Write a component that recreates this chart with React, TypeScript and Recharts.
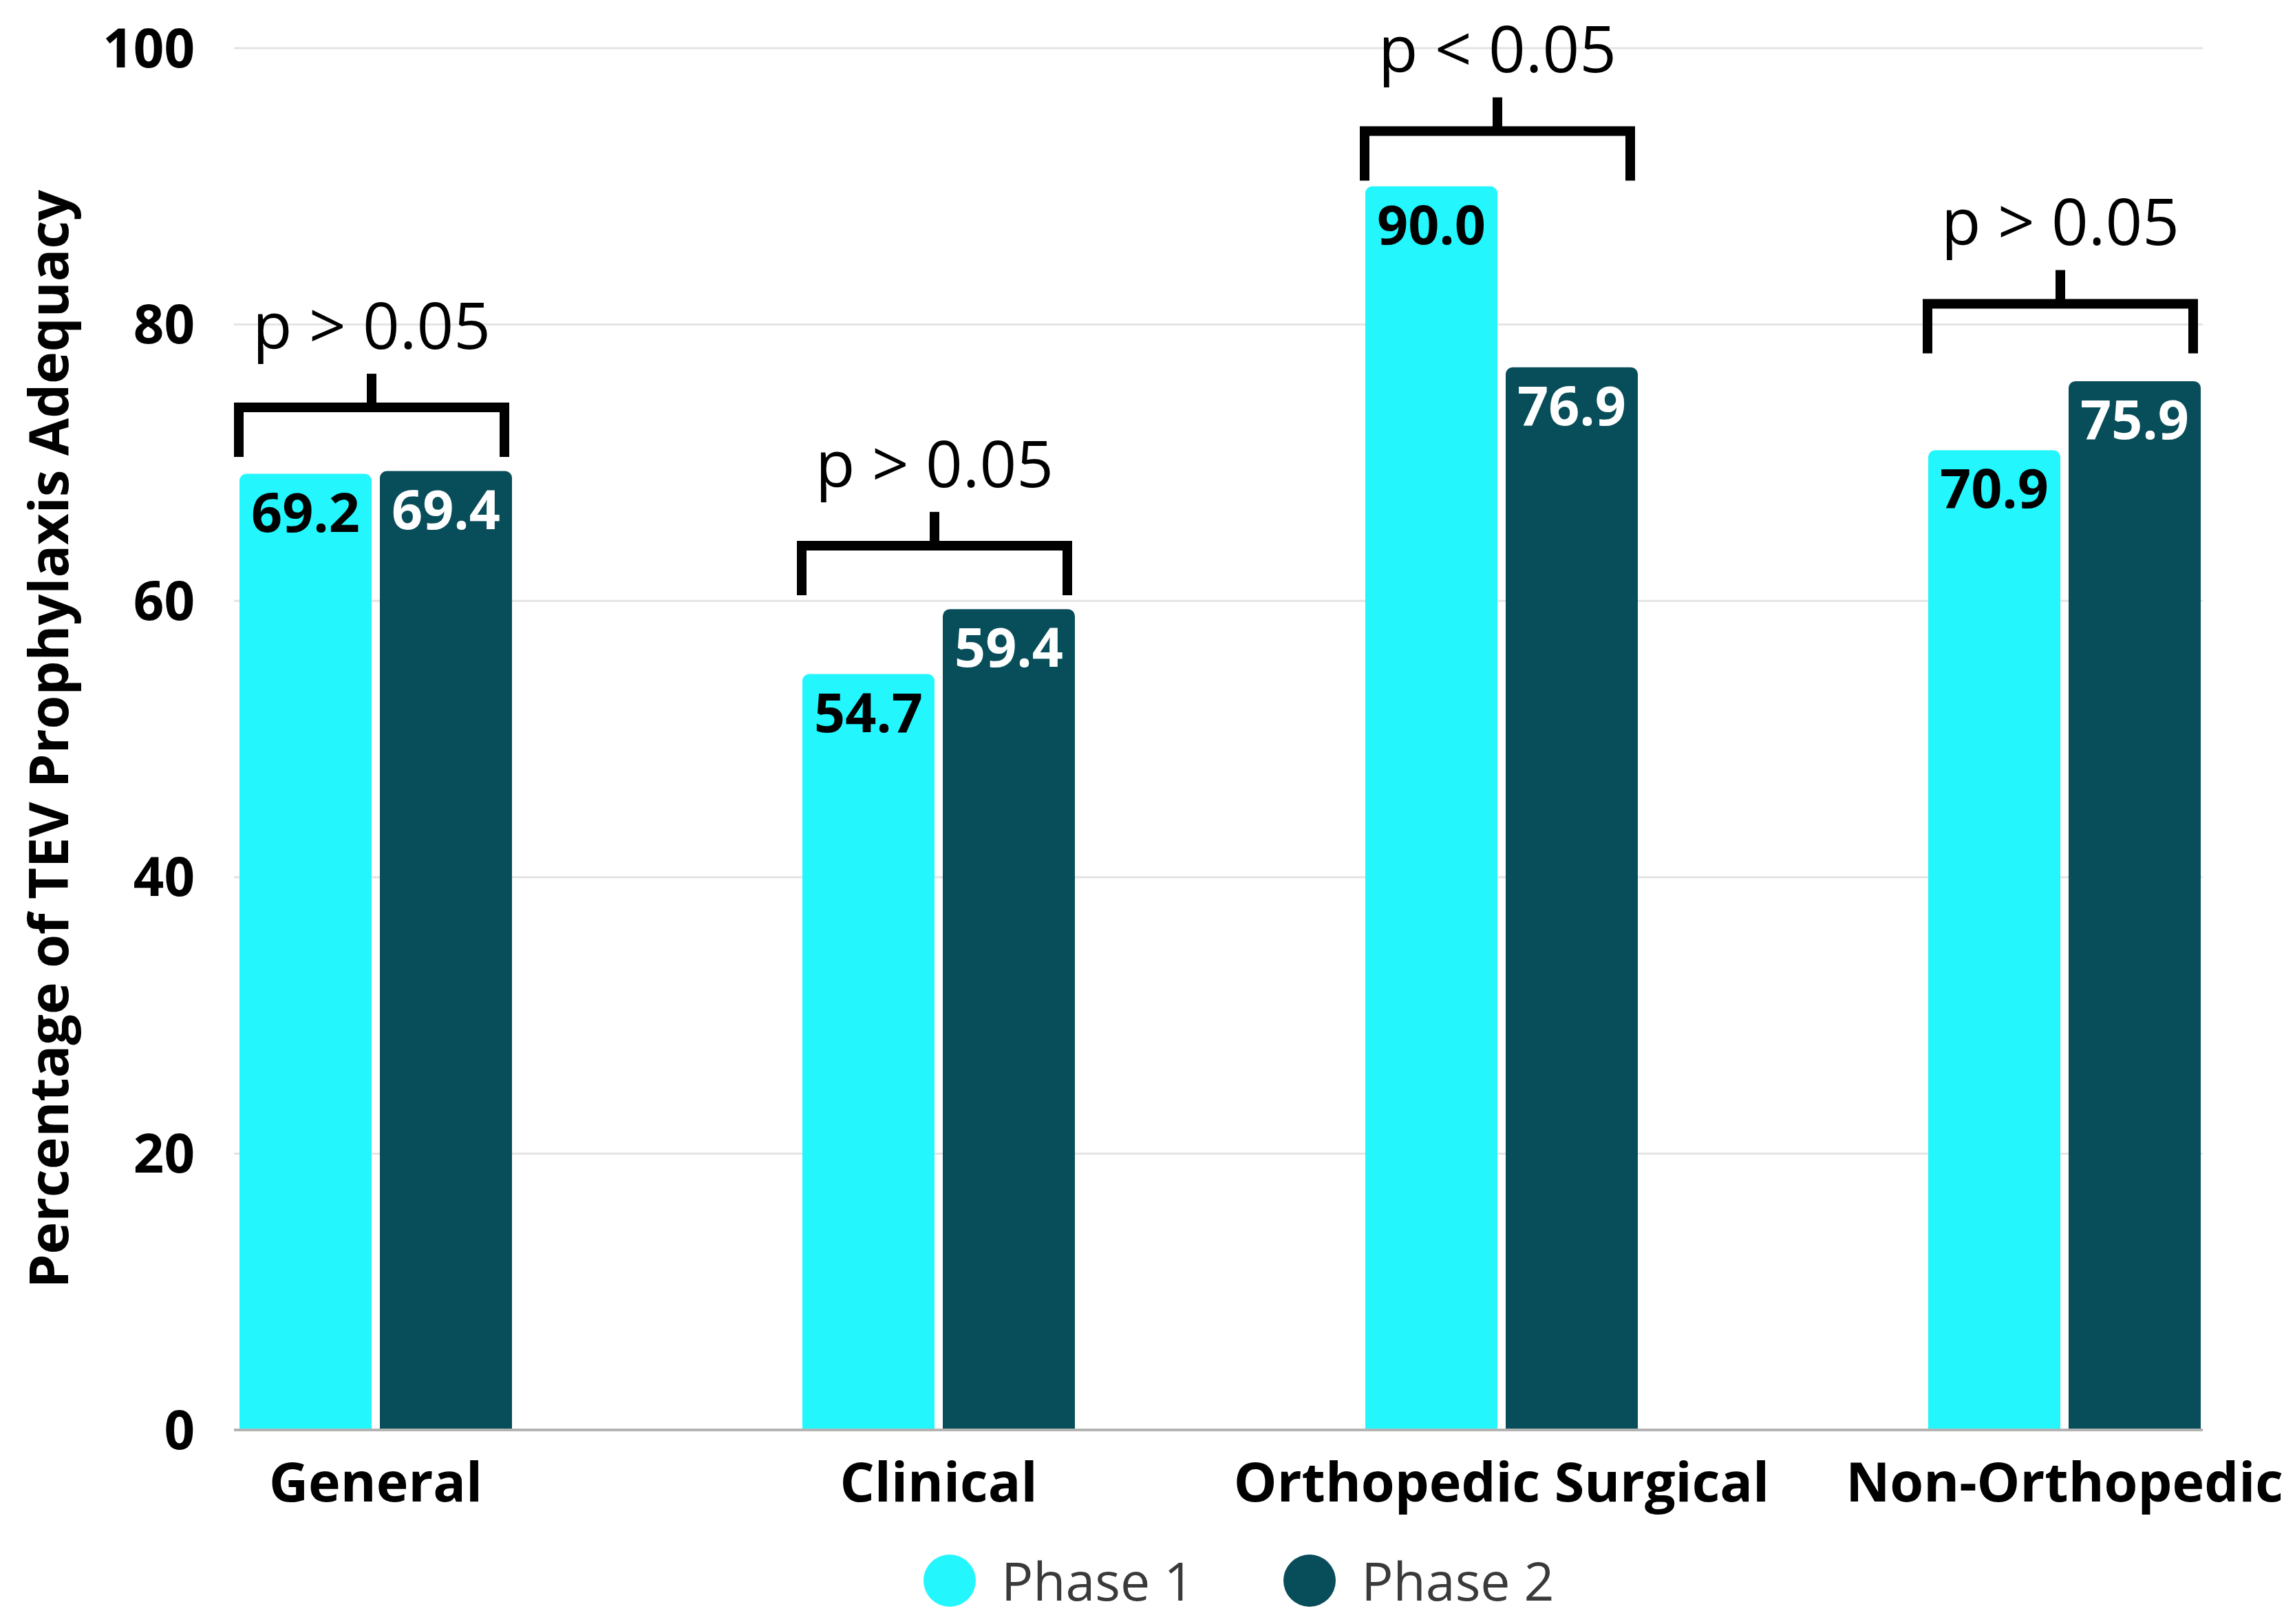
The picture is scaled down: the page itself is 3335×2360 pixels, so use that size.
import { BarChart, Bar, XAxis, YAxis, CartesianGrid, Legend, LabelList } from "recharts";

const categories = ["General", "Clinical", "Orthopedic Surgical", "Non-Orthopedic"];
const phase1 = [69.2, 54.7, 90.0, 70.9];
const phase2 = [69.4, 59.4, 76.9, 75.9];
const pLabels = ["p > 0.05", "p > 0.05", "p < 0.05", "p > 0.05"];
const bracketLevels = [74, 64, 94, 81.5];
const yTicks = [0, 20, 40, 60, 80, 100];
const seriesNames = ["Phase 1", "Phase 2"];
const colors = ["#23F6FD", "#084D5A"];

const data = categories.map((name, i) => ({
  name,
  phase1: phase1[i],
  phase2: phase2[i],
}));

const FONT = "'Open Sans', sans-serif";
const BAR_SIZE = 192;
const BAR_GAP = 12;

// bracket + p-value drawn on top of each Phase 2 bar, using the bar's own scale
const Bracket = (props: any) => {
  const { x, y, width, height, value, index } = props;
  if (x == null || !value) return null;
  const pxPerUnit = height / value;
  const lineY = y + height - bracketLevels[index] * pxPerUnit;
  const left = x - BAR_GAP - width - 8 + 7;
  const right = x + width - 4 - 7;
  const legEnd = lineY + 72;
  const mid = (left + right) / 2;
  return (
    <g>
      <path
        d={`M${left},${legEnd} L${left},${lineY} L${right},${lineY} L${right},${legEnd}`}
        fill="none"
        stroke="#000"
        strokeWidth={14}
        strokeLinejoin="miter"
      />
      <line x1={mid} x2={mid} y1={lineY} y2={lineY - 49} stroke="#000" strokeWidth={14} />
      <text
        x={mid}
        y={lineY - 121}
        textAnchor="middle"
        dominantBaseline="central"
        fontFamily={FONT}
        fontSize={94}
        fill="#000"
      >
        {pLabels[index]}
      </text>
    </g>
  );
};

const LegendContent = () => (
  <div style={{ display: "flex", alignItems: "center", height: 80, fontFamily: FONT, lineHeight: "80px" }}>
    {seriesNames.map((n, i) => (
      <div key={n} style={{ display: "flex", alignItems: "center", marginRight: i === 0 ? 130 : 0 }}>
        <div style={{ width: 76, height: 76, borderRadius: "50%", background: colors[i] }} />
        <span style={{ marginLeft: 37, fontSize: 77, color: "#3a3a3a" }}>{n}</span>
      </div>
    ))}
  </div>
);

const YLabel = (p: any) => {
  const vb = p.viewBox;
  const cx = vb.x + 68;
  const cy = vb.y + vb.height / 2;
  return (
    <text
      x={cx}
      y={cy}
      transform={`rotate(-90 ${cx} ${cy})`}
      textAnchor="middle"
      dominantBaseline="central"
      fontFamily={FONT}
      fontWeight={700}
      fontSize={79}
      fill="#000"
    >
      Percentage of TEV Prophylaxis Adequacy
    </text>
  );
};

export default function App() {
  return (
    <div style={{ position: "absolute", left: 0, top: 0, background: "#fff" }}>
      <BarChart
        width={3335}
        height={2360}
        data={data}
        margin={{ top: 70, right: 134, left: 0, bottom: 52 }}
        barGap={BAR_GAP}
        barSize={BAR_SIZE}
      >
        <CartesianGrid vertical={false} stroke="#e4e4e4" strokeWidth={3} />
        <XAxis
          dataKey="name"
          interval={0}
          height={150}
          padding={{ left: -203, right: -208 }}
          tickLine={false}
          tickSize={0}
          tickMargin={48}
          axisLine={{ stroke: "#b3b3b3", strokeWidth: 4 }}
          tick={{ fontFamily: FONT, fontWeight: 700, fontSize: 79, fill: "#000" }}
        />
        <YAxis
          domain={[0, 100]}
          ticks={yTicks}
          width={340}
          axisLine={false}
          tickLine={false}
          tickSize={0}
          tickMargin={57}
          tick={{ fontFamily: FONT, fontWeight: 700, fontSize: 78, fill: "#000" }}
          label={{ content: YLabel }}
        />
        <Legend
          content={LegendContent}
          wrapperStyle={{ position: "absolute", left: 1342, top: 2257, bottom: "auto", width: "auto", height: 80 }}
        />
        <Bar dataKey="phase1" name={seriesNames[0]} fill={colors[0]} radius={[10, 10, 0, 0]} isAnimationActive={false}>
          <LabelList
            dataKey="phase1"
            position="insideTop"
            offset={28}
            formatter={(v: any) => Number(v).toFixed(1)}
            style={{ fontFamily: FONT, fontWeight: 700, fontSize: 79 }}
            fill="#000"
          />
        </Bar>
        <Bar dataKey="phase2" name={seriesNames[1]} fill={colors[1]} radius={[10, 10, 0, 0]} isAnimationActive={false}>
          <LabelList
            dataKey="phase2"
            position="insideTop"
            offset={28}
            formatter={(v: any) => Number(v).toFixed(1)}
            style={{ fontFamily: FONT, fontWeight: 700, fontSize: 79 }}
            fill="#fff"
          />
          <LabelList dataKey="phase2" content={Bracket} />
        </Bar>
      </BarChart>
    </div>
  );
}
